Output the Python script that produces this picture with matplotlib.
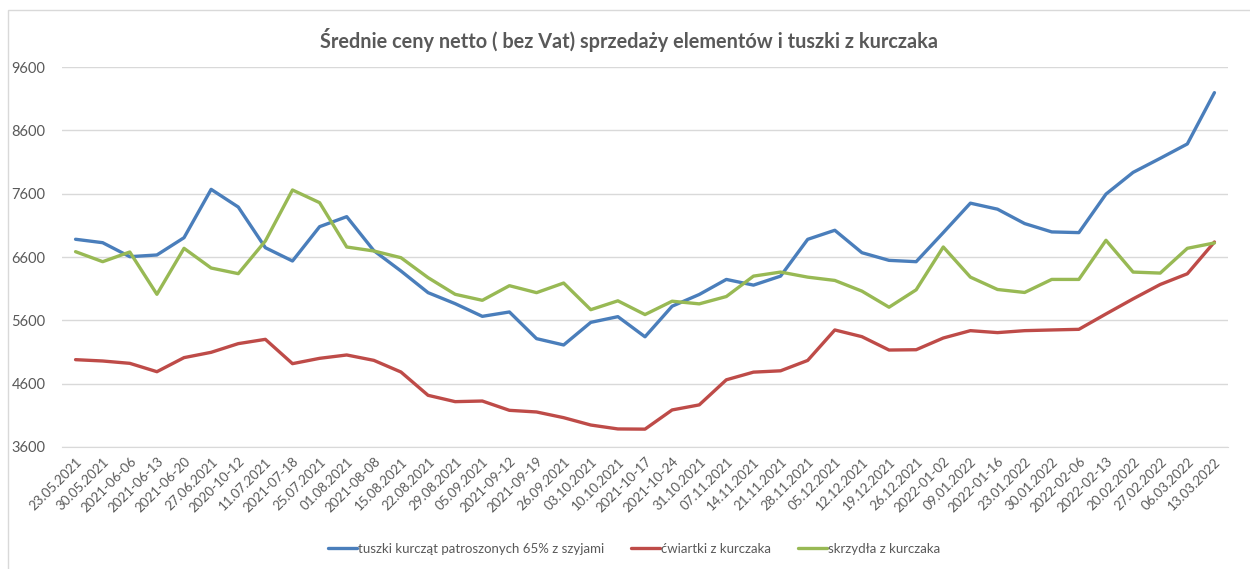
import matplotlib
matplotlib.use("Agg")
import matplotlib.pyplot as plt
from matplotlib.patches import Rectangle
import numpy as np

plt.rcParams['font.family'] = ['Lato', 'DejaVu Sans']

dates = [
    "23.05.2021", "30.05.2021", "2021-06-06", "2021-06-13", "2021-06-20",
    "27.06.2021", "2020-10-12", "11.07.2021", "2021-07-18", "25.07.2021",
    "01.08.2021", "2021-08-08", "15.08.2021", "22.08.2021", "29.08.2021",
    "05.09.2021", "2021-09-12", "2021-09-19", "26.09.2021", "03.10.2021",
    "10.10.2021", "2021-10-17", "2021-10-24", "31.10.2021", "07.11.2021",
    "14.11.2021", "21.11.2021", "28.11.2021", "05.12.2021", "12.12.2021",
    "19.12.2021", "26.12.2021", "2022-01-02", "09.01.2022", "2022-01-16",
    "23.01.2022", "30.01.2022", "2022-02-06", "2022-02-13", "20.02.2022",
    "27.02.2022", "06.03.2022", "13.03.2022",
]

tuszki = [
    6880, 6826, 6605, 6632, 6905, 7668, 7389, 6747, 6537, 7079,
    7237, 6700, 6379, 6037, 5863, 5663, 5732, 5311, 5211, 5568,
    5658, 5340, 5823, 6008, 6246, 6156, 6298, 6879, 7022, 6668,
    6547, 6526, 6985, 7450, 7355, 7128, 6996, 6985, 7593, 7936,
    8158, 8385, 9195,
]

cwiartki = [
    4979, 4958, 4921, 4789, 5011, 5095, 5232, 5300, 4916, 5000,
    5053, 4968, 4784, 4416, 4316, 4326, 4179, 4153, 4063, 3947,
    3885, 3882, 4185, 4265, 4661, 4782, 4803, 4967, 5448, 5342,
    5131, 5136, 5321, 5437, 5406, 5437, 5448, 5458, 5701, 5939,
    6166, 6335, 6837,
]

skrzydla = [
    6684, 6526, 6679, 6011, 6737, 6426, 6337, 6853, 7658, 7458,
    6758, 6695, 6589, 6274, 6011, 5916, 6147, 6037, 6189, 5768,
    5908, 5691, 5902, 5860, 5976, 6298, 6362, 6282, 6230, 6061,
    5807, 6082, 6758, 6282, 6087, 6040, 6246, 6246, 6864, 6362,
    6346, 6737, 6822,
]

series_names = [
    "tuszki kurcząt patroszonych 65% z szyjami",
    "ćwiartki z kurczaka",
    "skrzydła z kurczaka",
]
series_colors = ["#4A7EBB", "#BE4B48", "#98B954"]

W, H = 1250, 569
fig = plt.figure(figsize=(W / 100, H / 100), dpi=100)
fig.patch.set_facecolor("white")

# ramka wykresu
fig.add_artist(Rectangle((8 / W, -0.1), 1.2, 1.1 - 10 / H,
                         transform=fig.transFigure, fill=False,
                         edgecolor="#D9D9D9", linewidth=1.0))

ax = fig.add_axes([62 / W, 1 - 447 / H, (1228 - 62) / W, (447 - 67) / H])
x = np.arange(len(dates))

for values, name, col in zip([tuszki, cwiartki, skrzydla], series_names, series_colors):
    ax.plot(x, values, color=col, linewidth=2.4, label=name,
            solid_joinstyle="round", solid_capstyle="round")

ax.set_xlim(-0.5, len(dates) - 0.5)
ax.set_ylim(3600, 9600)
ax.set_yticks(np.arange(3600, 9601, 1000))
ax.yaxis.grid(True, color="#D9D9D9", linewidth=1.0)
ax.set_axisbelow(True)
for side in ["top", "right", "left"]:
    ax.spines[side].set_visible(False)
ax.spines["bottom"].set_color("#D9D9D9")

ax.set_xticks(x)
ax.set_xticklabels(dates, rotation=45, ha="right", rotation_mode="anchor",
                   fontsize=9.6, color="#595959")
ax.tick_params(axis="x", length=0, pad=6)
ax.tick_params(axis="y", length=0, pad=12, labelsize=10.5, labelcolor="#595959")

fig.text(629 / W, 1 - 40 / H,
         "Średnie ceny netto ( bez Vat) sprzedaży elementów i tuszki z kurczaka",
         ha="center", va="center", fontsize=14.3, fontweight="bold", color="#595959")

fig.legend(loc="center", bbox_to_anchor=(634 / W, 1 - 549 / H), ncol=3,
           frameon=False, fontsize=9.5, handlelength=2.2, handletextpad=0.1,
           columnspacing=2.0, labelcolor="#595959")

fig.savefig("out.png", dpi=100)
